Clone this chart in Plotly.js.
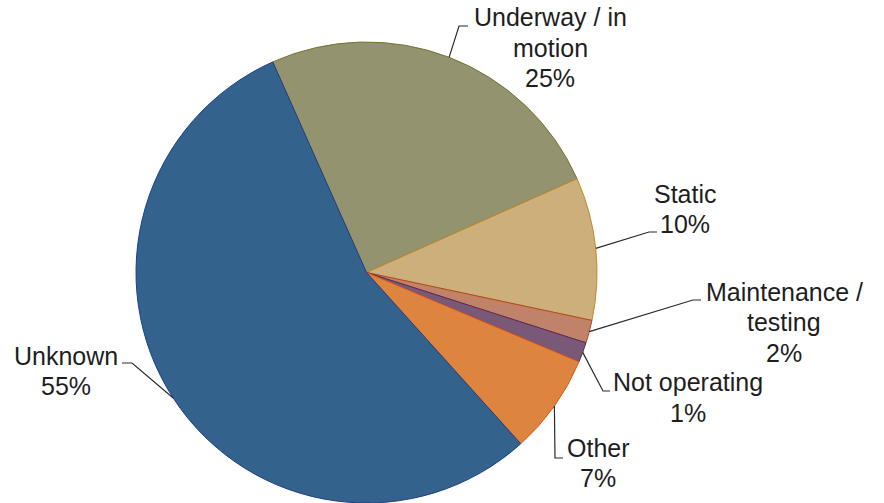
<!DOCTYPE html>
<html>
<head>
<meta charset="utf-8">
<script src="https://cdn.plot.ly/plotly-3.0.1.min.js"></script>
<style>
html,body{margin:0;padding:0;background:#fff;}
#chart{width:884px;height:503px;}
</style>
</head>
<body>
<div id="chart"></div>
<script>
// ---- data ----
var categories = ["Underway / in motion", "Static", "Maintenance / testing", "Not operating", "Other", "Unknown"];
var labelLines = [["Underway / in", "motion"], ["Static"], ["Maintenance /", "testing"], ["Not operating"], ["Other"], ["Unknown"]];
var shares = [25, 10, 1.6, 1.4, 7, 55];

// ---- styles ----
var fillColors = ["#939370", "#CCAF7A", "#C0836A", "#7A5878", "#DD843F", "#33628C"];
var edgeColors = ["#75742E", "#C08A2A", "#B8461A", "#5A2A5A", "#E0561A", "#1F3F8A"];

// ---- layout geometry (pixels) ----
var W = 884, H = 503;
var pieLeft = 136, pieRight = 597, pieTop = 42, pieBottom = 503;
var rotation = -24;
var lineGap = 30.5;
// label centre positions and elbow points [elbowX, elbowY, endX, endY]
var labelPos = [[550, 47.5], [685, 209], [784, 322], [688, 397.5], [598, 463], [66, 371]];
var elbows = [[459, 26, 468, 26], [649, 232, 657, 232], [693, 300, 701, 300], [603, 391, 610, 391], [555, 458, 563, 458], [132, 363, 122, 363]];

function px(x) { return x / W; }
function py(y) { return 1 - y / H; }

var cx = (pieLeft + pieRight) / 2, cy = (pieTop + pieBottom) / 2, r = (pieRight - pieLeft) / 2;
var total = shares.reduce(function (a, b) { return a + b; }, 0);

var annotations = [], shapes = [];
var cum = 0;
for (var i = 0; i < shares.length; i++) {
  var mid = (rotation + 360 * (cum + shares[i] / 2) / total) * Math.PI / 180;
  cum += shares[i];
  var ex = cx + r * Math.sin(mid), ey = cy - r * Math.cos(mid);
  var e = elbows[i];
  shapes.push({
    type: "path", xref: "paper", yref: "paper",
    path: "M" + px(ex) + "," + py(ey) + " L" + px(e[0]) + "," + py(e[1]) + " L" + px(e[2]) + "," + py(e[3]),
    line: {color: "#2b2b2b", width: 1.2}
  });
  var lines = labelLines[i].concat([Math.round(shares[i] / total * 100) + "%"]);
  for (var j = 0; j < lines.length; j++) {
    var ly = labelPos[i][1] + (j - (lines.length - 1) / 2) * lineGap;
    annotations.push({
      xref: "paper", yref: "paper", x: px(labelPos[i][0]), y: py(ly),
      xanchor: "center", yanchor: "middle", showarrow: false, align: "center",
      text: lines[j], font: {family: "Liberation Sans, Arial, sans-serif", size: 25, color: "#1e1e1e"}
    });
  }
}

var trace = {
  type: "pie",
  labels: categories,
  values: shares,
  sort: false,
  direction: "clockwise",
  rotation: rotation,
  textinfo: "none",
  hoverinfo: "label+percent",
  marker: {colors: fillColors, line: {color: edgeColors, width: 1}},
  domain: {x: [px(pieLeft), px(pieRight)], y: [0, (pieBottom - pieTop) / H]},
  showlegend: false
};

var layout = {
  width: W, height: H,
  margin: {l: 0, r: 0, t: 0, b: 0},
  paper_bgcolor: "#ffffff",
  showlegend: false,
  annotations: annotations,
  shapes: shapes
};

Plotly.newPlot("chart", [trace], layout, {staticPlot: true});
</script>
</body>
</html>
